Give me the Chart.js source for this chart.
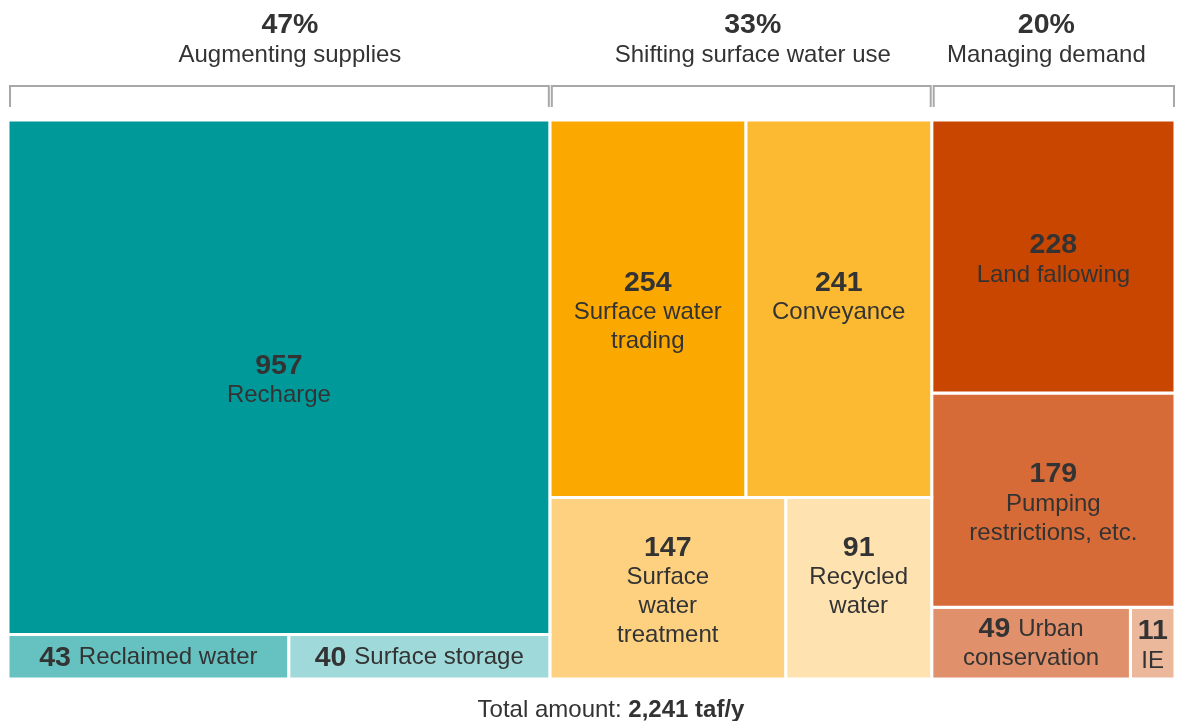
<!DOCTYPE html>
<html><head><meta charset="utf-8">
<script src="https://cdn.jsdelivr.net/npm/chart.js@4"></script>
<style>html,body{margin:0;padding:0;background:#fff}</style>
</head><body>
<canvas id="c" width="1178" height="721"></canvas>
<script>
const groupNames = ['Augmenting supplies', 'Shifting surface water use', 'Managing demand'];
const groupShares = ['47%', '33%', '20%'];
const categories = ['Recharge', 'Reclaimed water', 'Surface storage', 'Surface water trading', 'Conveyance',
  'Surface water treatment', 'Recycled water', 'Land fallowing', 'Pumping restrictions, etc.', 'Urban conservation', 'IE'];
const values = [957, 43, 40, 254, 241, 147, 91, 228, 179, 49, 11];
const groupIndex = [0, 0, 0, 1, 1, 1, 1, 2, 2, 2, 2];
const rowIndex = [0, 1, 1, 0, 0, 1, 1, 0, 1, 2, 2];
const labelLines = [['Recharge'], ['Reclaimed water'], ['Surface storage'], ['Surface water', 'trading'], ['Conveyance'],
  ['Surface', 'water', 'treatment'], ['Recycled', 'water'], ['Land fallowing'], ['Pumping', 'restrictions, etc.'],
  ['Urban', 'conservation'], ['IE']];
const labelInline = [false, true, true, false, false, false, false, false, false, true, false];
const colors = ['#009999', '#66c1c1', '#9fd9d9', '#fba800', '#fcb932', '#fdd17f', '#fee3b1',
  '#c84600', '#d66b38', '#e0906a', '#ecb89c'];
const totalText = ['Total amount: ', '2,241 taf/y'];

// ---- treemap layout computed from the values ----
const total = values.reduce((a, b) => a + b, 0);
const rects = [];
let gx = 0;
const groupSpans = [];
for (let g = 0; g < groupNames.length; g++) {
  const idx = values.map((v, i) => i).filter(i => groupIndex[i] === g);
  const gSum = idx.reduce((a, i) => a + values[i], 0);
  const rows = [...new Set(idx.map(i => rowIndex[i]))];
  let gy = 0;
  for (const r of rows) {
    const ridx = idx.filter(i => rowIndex[i] === r);
    const rSum = ridx.reduce((a, i) => a + values[i], 0);
    const h = rSum / gSum;
    let rx = gx;
    for (const i of ridx) {
      const w = values[i] / rSum * gSum;
      rects[i] = { x0: rx, x1: rx + w, y0: gy, y1: gy + h };
      rx += w;
    }
    gy += h;
  }
  groupSpans.push([gx, gx + gSum]);
  gx += gSum;
}

const datasets = categories.map((name, i) => {
  const r = rects[i];
  return {
    label: name,
    data: [{ x: r.x0, y: r.y0 }, { x: r.x1, y: r.y0 }, { x: r.x1, y: r.y1 }, { x: r.x0, y: r.y1 }, { x: r.x0, y: r.y0 }],
    showLine: true,
    fill: 'shape',
    backgroundColor: colors[i],
    borderColor: '#ffffff',
    borderWidth: 3,
    pointRadius: 0,
    pointHoverRadius: 0,
    tension: 0
  };
});

const FONT = '"Liberation Sans", Arial, sans-serif';
const TXT = '#333333';

const labelPlugin = {
  id: 'treeLabels',
  afterDatasetsDraw(chart) {
    const ctx = chart.ctx, xs = chart.scales.x, ys = chart.scales.y;
    ctx.save();
    ctx.textBaseline = 'middle';
    ctx.fillStyle = TXT;
    const bold = 'bold 28.5px ' + FONT, norm = '24px ' + FONT;
    const LH = 29;
    // max number of stacked lines per row (labels in a row share the top line)
    const rowMax = {};
    categories.forEach((n, i) => {
      const key = groupIndex[i] + '-' + rowIndex[i];
      const cnt = labelInline[i] ? labelLines[i].length : labelLines[i].length + 1;
      rowMax[key] = Math.max(rowMax[key] || 0, cnt);
    });
    categories.forEach((name, i) => {
      const r = rects[i];
      const cx = (xs.getPixelForValue(r.x0) + xs.getPixelForValue(r.x1)) / 2;
      const cy = (ys.getPixelForValue(r.y0) + ys.getPixelForValue(r.y1)) / 2;
      const num = String(values[i]);
      const m = rowMax[groupIndex[i] + '-' + rowIndex[i]];
      if (labelInline[i]) {
        const lines = labelLines[i];
        const top = cy - (m - 1) / 2 * LH + 1;
        lines.forEach((ln, k) => {
          const y = top + k * LH;
          if (k === 0) {
            ctx.font = bold; const wn = ctx.measureText(num + ' ').width;
            ctx.font = norm; const wl = ctx.measureText(ln).width;
            const sx = cx - (wn + wl) / 2;
            ctx.textAlign = 'left';
            ctx.font = bold; ctx.fillText(num + ' ', sx, y);
            ctx.font = norm; ctx.fillText(ln, sx + wn, y);
          } else {
            ctx.textAlign = 'center'; ctx.font = norm; ctx.fillText(ln, cx, y);
          }
        });
      } else {
        const lines = [num].concat(labelLines[i]);
        const top = cy - (m - 1) / 2 * LH + 3;
        ctx.textAlign = 'center';
        lines.forEach((ln, k) => {
          const y = top + k * LH + (k > 0 ? 1 : 0);
          ctx.font = k === 0 ? bold : norm;
          ctx.fillText(ln, cx, y);
        });
      }
    });
    // group headers + brackets
    const nudge = [11, 12, -7];
    groupNames.forEach((gname, g) => {
      const px0 = xs.getPixelForValue(groupSpans[g][0]);
      const px1 = xs.getPixelForValue(groupSpans[g][1]);
      const gc = (px0 + px1) / 2 + nudge[g];
      ctx.textAlign = 'center';
      ctx.font = bold; ctx.fillText(groupShares[g], gc, 25);
      ctx.font = norm; ctx.fillText(gname, gc, 55);
      ctx.strokeStyle = '#a8a8a8';
      ctx.lineWidth = 2;
      ctx.beginPath();
      ctx.moveTo(px0 + 2, 107); ctx.lineTo(px0 + 2, 86); ctx.lineTo(px1 - 1, 86); ctx.lineTo(px1 - 1, 107);
      ctx.stroke();
    });
    // total
    const tb = 'bold 24px ' + FONT;
    ctx.font = norm; const w1 = ctx.measureText(totalText[0]).width;
    ctx.font = tb; const w2 = ctx.measureText(totalText[1]).width;
    const tx = 611 - (w1 + w2) / 2;
    ctx.textAlign = 'left';
    ctx.font = norm; ctx.fillText(totalText[0], tx, 710);
    ctx.font = tb; ctx.fillText(totalText[1], tx + w1, 710);
    ctx.restore();
  }
};

new Chart(document.getElementById('c'), {
  type: 'scatter',
  data: { datasets },
  options: {
    responsive: false,
    animation: false,
    events: [],
    layout: { padding: { left: 8, right: 3, top: 120, bottom: 42 } },
    plugins: { legend: { display: false }, tooltip: { enabled: false } },
    scales: {
      x: { type: 'linear', min: 0, max: total, display: false },
      y: { type: 'linear', min: 0, max: 1, reverse: true, display: false }
    }
  },
  plugins: [labelPlugin]
});
</script>
</body></html>
